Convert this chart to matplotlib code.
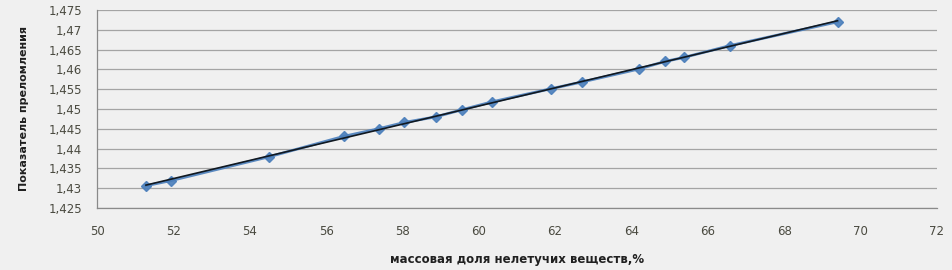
import matplotlib
matplotlib.use("Agg")
import matplotlib.pyplot as plt
import numpy as np
from matplotlib.ticker import FuncFormatter, MultipleLocator

# массовая доля нелетучих веществ, % vs показатель преломления
mass_fraction = [51.28, 51.94, 54.5, 56.47, 57.38, 58.05, 58.87, 59.56, 60.35,
                 61.89, 62.7, 64.2, 64.88, 65.37, 66.58, 69.4]
refr_index = [1.4306, 1.4319, 1.4379, 1.4431, 1.4450, 1.4466, 1.4480, 1.4498, 1.4518,
              1.4551, 1.4568, 1.4601, 1.4620, 1.4630, 1.4660, 1.4720]

x_label = "массовая доля нелетучих веществ,%"
y_label = "Показатель преломления"

bg = "#f0f0f0"
fig = plt.figure(figsize=(9.52, 2.70), dpi=100, facecolor=bg)
ax = fig.add_axes([0.102, 0.23, 0.882, 0.733], facecolor=bg)

x = np.array(mass_fraction)
y = np.array(refr_index)

ax.plot(x, y, color="#4a7ebb", lw=2.0, marker="D", ms=5,
        markerfacecolor="#4a7ebb", markeredgecolor="#4a7ebb", alpha=0.9, zorder=3)

# linear trendline
k, b = np.polyfit(x, y, 1)
xt = np.array([x.min(), x.max()])
ax.plot(xt, k * xt + b, color="#101820", lw=1.2, zorder=4)

ax.set_xlim(50, 72)
ax.set_ylim(1.425, 1.475)
ax.xaxis.set_major_locator(MultipleLocator(2))
ax.yaxis.set_major_locator(MultipleLocator(0.005))


def comma_fmt(v, pos):
    s = f"{v:.3f}".rstrip("0").rstrip(".")
    return s.replace(".", ",")


ax.yaxis.set_major_formatter(FuncFormatter(comma_fmt))
ax.xaxis.set_major_formatter(FuncFormatter(lambda v, p: f"{v:.0f}"))

ax.grid(axis="y", color="#a4a4a4", lw=0.9)
ax.set_axisbelow(True)
for side in ("top", "right"):
    ax.spines[side].set_visible(False)
for side in ("left", "bottom"):
    ax.spines[side].set_color("#8a8a8a")
    ax.spines[side].set_linewidth(0.9)

ax.tick_params(length=0, labelsize=8.5, labelcolor="#4a4a40")
ax.tick_params(axis="x", pad=12)
ax.tick_params(axis="y", pad=11)

ax.set_xlabel(x_label, fontsize=8.5, fontweight="bold", color="#202020", labelpad=11)
ax.set_ylabel(y_label, fontsize=8, fontweight="bold", color="#202020", labelpad=14)

fig.savefig("out.png", dpi=100, facecolor=bg)
